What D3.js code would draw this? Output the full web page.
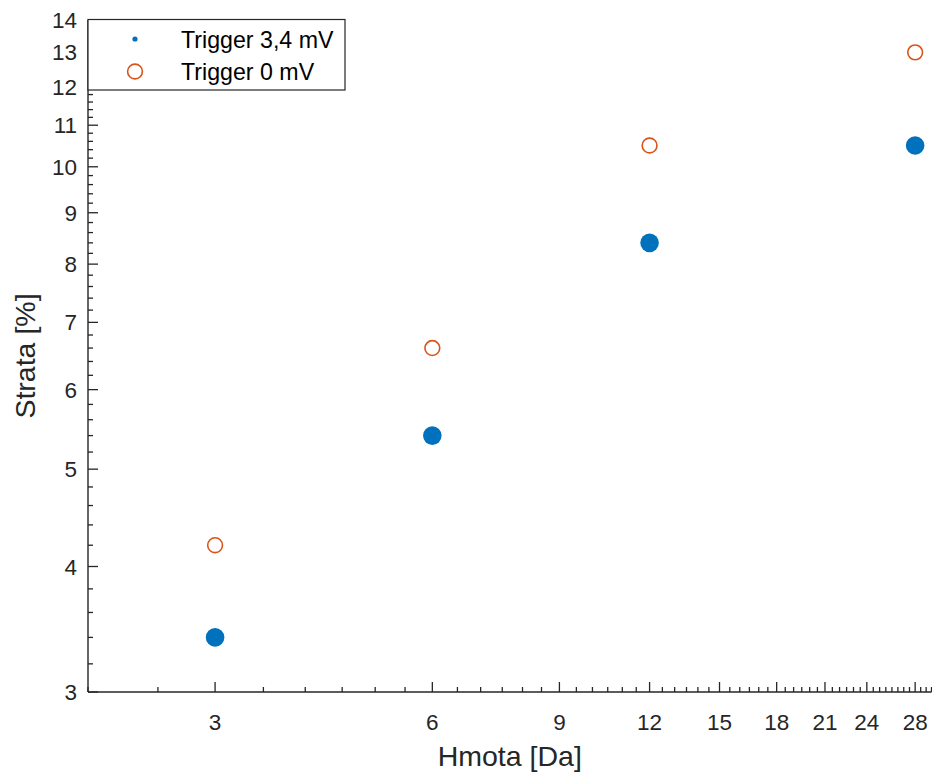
<!DOCTYPE html>
<html>
<head>
<meta charset="utf-8">
<script src="https://cdn.jsdelivr.net/npm/d3@7"></script>
<style>
  html, body { margin: 0; padding: 0; background: #fff; }
  svg { display: block; font-family: "Liberation Sans", Arial, sans-serif; }
</style>
</head>
<body>
<svg id="chart" width="932" height="774"></svg>
<script>
// Mass values and strain measured for the two trigger levels
const hmota = [3, 6, 12, 28];
const trigger34 = [3.4, 5.4, 8.4, 10.5];
const trigger0 = [4.2, 6.6, 10.5, 13.0];

const seriesNames = ["Trigger 3,4 mV", "Trigger 0 mV"];
const xTickValues = [3, 6, 9, 12, 15, 18, 21, 24, 28];
const yTickValues = [3, 4, 5, 6, 7, 8, 9, 10, 11, 12, 13, 14];
const xTitle = "Hmota [Da]";
const yTitle = "Strata [%]";

const blue = "#0072BD";
const orange = "#D95319";
const axisColor = "#262626";

const svg = d3.select("#chart");
const plotLeft = 88, plotRight = 931.5, plotTop = 20, plotBottom = 692;

const x = d3.scaleLog().domain([2, 29.5]).range([plotLeft, plotRight]);
const y = d3.scaleLog().domain([3, 14]).range([plotBottom, plotTop]);

// Minor ticks: every 0.5 on x, every 0.2 on y
const xMinor = d3.range(2, 29.51, 0.5).filter(v => !xTickValues.some(t => Math.abs(t - v) < 1e-6));
const yMinor = d3.range(3, 14.001, 0.2).filter(v => Math.abs(v - Math.round(v)) > 1e-6);

const g = svg.append("g");

// Data markers
g.selectAll("circle.t34").data(hmota).join("circle")
  .attr("class", "t34")
  .attr("cx", d => x(d))
  .attr("cy", (d, i) => y(trigger34[i]))
  .attr("r", 9.3)
  .attr("fill", blue);

g.selectAll("circle.t0").data(hmota).join("circle")
  .attr("class", "t0")
  .attr("cx", d => x(d))
  .attr("cy", (d, i) => y(trigger0[i]))
  .attr("r", 7.4)
  .attr("fill", "none")
  .attr("stroke", orange)
  .attr("stroke-width", 1.6);

// Axes with inward ticks
const axes = svg.append("g").attr("stroke", axisColor);

axes.selectAll("line.xmin").data(xMinor).join("line")
  .attr("x1", d => x(d)).attr("x2", d => x(d))
  .attr("y1", plotBottom).attr("y2", plotBottom - 5)
  .attr("stroke-width", 1.3);
axes.selectAll("line.xmaj").data(xTickValues).join("line")
  .attr("x1", d => x(d)).attr("x2", d => x(d))
  .attr("y1", plotBottom).attr("y2", plotBottom - 10)
  .attr("stroke-width", 1.3);
axes.selectAll("line.ymin").data(yMinor).join("line")
  .attr("x1", plotLeft).attr("x2", plotLeft + 5)
  .attr("y1", d => y(d)).attr("y2", d => y(d))
  .attr("stroke-width", 1.3);
axes.selectAll("line.ymaj").data(yTickValues).join("line")
  .attr("x1", plotLeft).attr("x2", plotLeft + 10)
  .attr("y1", d => y(d)).attr("y2", d => y(d))
  .attr("stroke-width", 1.3);

axes.append("line")
  .attr("x1", plotLeft).attr("x2", plotRight).attr("y1", plotBottom).attr("y2", plotBottom)
  .attr("stroke-width", 1.4);
axes.append("line")
  .attr("x1", plotLeft).attr("x2", plotLeft).attr("y1", plotTop).attr("y2", plotBottom)
  .attr("stroke-width", 1.4);

// Tick labels
svg.append("g").selectAll("text").data(xTickValues).join("text")
  .attr("x", d => x(d)).attr("y", plotBottom + 38)
  .attr("text-anchor", "middle")
  .attr("font-size", 22.5).attr("fill", axisColor)
  .text(d => d);

svg.append("g").selectAll("text").data(yTickValues).join("text")
  .attr("x", plotLeft - 11).attr("y", d => y(d) + 8)
  .attr("text-anchor", "end")
  .attr("font-size", 22.5).attr("fill", axisColor)
  .text(d => d);

// Axis titles
svg.append("text")
  .attr("x", (plotLeft + plotRight) / 2).attr("y", 766)
  .attr("text-anchor", "middle")
  .attr("font-size", 28.5).attr("fill", axisColor)
  .text(xTitle);

svg.append("text")
  .attr("transform", `translate(35,${(plotTop + plotBottom) / 2}) rotate(-90)`)
  .attr("text-anchor", "middle")
  .attr("font-size", 28.5).attr("fill", axisColor)
  .text(yTitle);

// Legend
const lg = svg.append("g");
lg.append("rect")
  .attr("x", plotLeft).attr("y", 19.5).attr("width", 257).attr("height", 70.5)
  .attr("fill", "#fff").attr("stroke", axisColor).attr("stroke-width", 1.2);
lg.append("circle").attr("cx", 135).attr("cy", 39).attr("r", 2.6).attr("fill", blue);
lg.append("circle").attr("cx", 135).attr("cy", 71.5).attr("r", 7.4)
  .attr("fill", "none").attr("stroke", orange).attr("stroke-width", 1.6);
lg.selectAll("text").data(seriesNames).join("text")
  .attr("x", 181).attr("y", (d, i) => 47.5 + i * 32.5)
  .attr("font-size", 23.2).attr("fill", "#000")
  .text(d => d);
</script>
</body>
</html>
